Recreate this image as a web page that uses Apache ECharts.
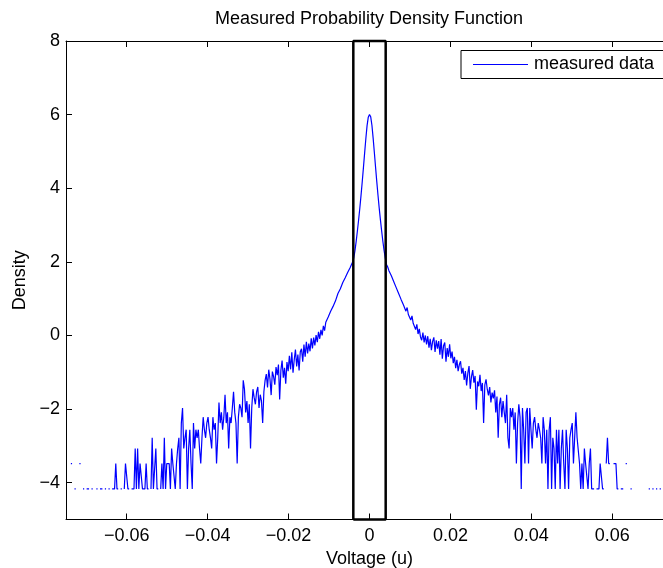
<!DOCTYPE html>
<html>
<head>
<meta charset="utf-8">
<title>Measured Probability Density Function</title>
<script src="https://cdn.jsdelivr.net/npm/echarts@6/dist/echarts.min.js"></script>
<style>
  html, body { margin: 0; padding: 0; background: #fff; }
  #chart { width: 663px; height: 568px; }
</style>
</head>
<body>
<div id="chart"></div>
<script>
// log density per voltage bin (bins of 0.0003 starting at -0.0738), null = empty bin
const binStart = -0.0738;
const binWidth = 0.0003;

const leftTail = [
  -3.48, -3.48, null, -4.17, -4.17, null, null, -3.48, -3.48, null,
  -4.17, -4.17, null, -4.17, -4.17, -4.17, null, -4.17, -4.17, null,
  null, -4.17, -4.17, null, -4.17, -4.17, -4.17, null, -4.17, -4.17,
  null, -4.17, -4.17, null, -4.17, -4.17, -4.17, -3.48, -4.17, -4.17,
  null, -4.17, -4.17, null, -4.17, -3.48, -3.48, -4.17, -4.17, null,
  -4.17, -4.17, -4.17, -3.07, -4.17, -3.07, -4.17, -3.48, -3.48, -4.17,
  -4.17, -4.17, -3.48, -4.17, -4.17, null, -4.17, -2.78, -4.17, -4.17,
  -3.07, -4.17, -4.17, null, -4.17, -3.48, -4.17, -2.78, -4.17, -3.48,
  -3.48, -3.48, -4.17, -3.07, -3.48, -3.48, -4.17, -3.48, -3.07, -2.78,
  -4.17, -2.38, -1.97, -3.07, -2.78, -2.56, -4.17, -3.07, -2.56, -3.48
];

const leftBody = [
  -4.17, -2.38, -3.07, -2.56, -2.78, -2.56, -3.07, -3.48, -2.78, -2.22,
  -2.56, -2.78, -2.38, -2.22, -2.56, -2.78, -3.07, -2.22, -2.56, -2.38,
  -3.48, -2.78, -1.82, -2.38, -2.09, -2.56, -2.22, -1.61, -2.38, -2.09,
  -3.07, -2.22, -2.38, -1.97, -1.53, -2.09, -2.38, -3.48, -2.22, -1.87,
  -1.97, -2.22, -1.22, -1.46, -2.09, -1.78, -2.38, -1.87, -3.07, -1.97,
  -1.46, -1.69, -1.87, -1.53, -1.40, -1.97, -1.61, -1.78, -2.38, -1.53,
  -1.22, -1.05, -1.41, -0.93, -1.18, -1.62, -0.98, -1.12, -1.34, -0.86,
  -1.08, -0.79, -1.74, -0.95, -0.68, -1.15, -0.88, -1.31, -0.72, -0.97,
  -0.55, -0.92, -0.46, -1.01, -0.66, -0.38, -0.84, -0.52, -0.95, -0.44,
  -0.36, -0.71, -0.25, -0.58, -0.17, -0.49, -0.22, -0.43, -0.08, -0.35,
  -0.06, -0.27, 0.01, -0.18, 0.10, -0.09, 0.15, 0.00, 0.26, 0.13,
  0.36, 0.31, 0.50, 0.52, 0.66, 0.62, 0.79, 0.80, 0.94, 0.99,
  1.14, 1.16, 1.27, 1.32, 1.44, 1.47, 1.57, 1.61, 1.71, 1.74, 1.84, 1.88, 1.99
];

const peak = [
  2.10, 2.30, 2.55, 2.83, 3.13, 3.45, 3.80, 4.17, 4.56, 4.96, 5.35, 5.70, 5.93,
  6.00,
  5.94, 5.71, 5.36, 4.97, 4.57, 4.18, 3.81, 3.46, 3.14, 2.84, 2.56, 2.31, 2.10
];

const rightBody = [
  1.93, 1.86, 1.76, 1.72, 1.62, 1.58, 1.46, 1.45, 1.30, 1.29, 1.14, 1.15, 0.98,
  0.97, 0.83, 0.85, 0.66, 0.76, 0.57, 0.58, 0.42, 0.53, 0.33,
  0.36, 0.16, 0.30, 0.04, 0.18, -0.04, -0.13, 0.08, -0.19, 0.00,
  -0.24, -0.02, -0.33, -0.09, -0.40, -0.16, -0.05, -0.45, -0.13, -0.36,
  -0.15, -0.52, -0.10, -0.63, -0.28, -0.19, -0.71, -0.34, -0.58, -0.24,
  -0.62, -0.44, -0.75, -0.58, -0.89, -0.66, -0.97, -0.79, -0.70, -1.04,
  -0.88, -1.21, -0.97, -1.36, -1.02, -0.83, -1.45, -1.12, -0.94, -1.28,
  -1.10, -2.02, -1.25, -1.38, -1.07, -1.51, -1.29, -2.38, -1.34, -1.19,
  -1.46, -1.63, -1.40, -1.82, -1.55, -1.71, -1.49, -2.09, -1.66, -2.78,
  -1.87, -1.69, -2.22, -1.78, -2.09, -2.38, -1.61, -2.78, -3.07, -1.97,
  -2.22, -1.97, -2.56, -2.09, -3.48, -2.38, -1.87,
  -2.22, -4.17, -1.97, -2.56, -3.48, -2.09, -1.97, -3.48, -1.97, -2.56,
  -3.07, -2.38, -2.22, -2.56, -2.78, -2.38, -2.56, -2.78, -3.48, -2.22,
  -2.56, -3.48, -2.56
];

const rightTail = [
  -4.17, -2.56, -2.22, -4.17, -2.78, -3.07, -4.17, -2.56, -3.48, -2.56,
  -4.17, -3.07, -2.56, -3.48, -4.17, -2.56, -3.07, -4.17, -2.78, -2.56,
  -2.38, -3.48, -2.78, -2.09, -2.78, -2.78, -3.48, -4.17, -3.48, -4.17,
  -3.07, -3.48, -3.48, -4.17, -3.48, -3.07, -4.17, -4.17, -4.17, null,
  -4.17, -4.17, -4.17, -3.48, -3.48, -4.17, -4.17, null, -3.48, -2.78,
  -3.48, -3.48, null, null, -3.48, -3.48, -3.48, -4.17, -4.17, null,
  -4.17, -4.17, -4.17, null, -3.48, -3.48, null, null, -4.17, -4.17,
  null, null, null, null, null, null, null, null, null, null,
  null, null, null, -4.17, -4.17, null, -4.17, -4.17, null, -4.17,
  -4.17, null, -4.17, -4.17, null, -4.17, -4.17, null, null, null
];

const xTicks = [-0.06, -0.04, -0.02, 0, 0.02, 0.04, 0.06];
const yTicks = [-4, -2, 0, 2, 4, 6, 8];

// the black window drawn round the centre of the distribution
const boxX = [-0.004, -0.004, 0.004, 0.004, -0.004];
const boxY = [-5, 8, 8, -5, -5];

const density = [].concat(leftTail, leftBody, peak, rightBody, rightTail);
const points = density.map((v, i) => [+(binStart + i * binWidth).toFixed(5), v === null ? '-' : v]);
const boxPoints = boxX.map((x, i) => [x, boxY[i]]);

const font = 'Liberation Sans, Arial, Helvetica, sans-serif';
const fmt = v => (v < 0 ? '\u2212' : '') + Math.abs(v);

const chart = echarts.init(document.getElementById('chart'));

const tickStyle = { inside: true, length: 6, lineStyle: { color: '#000', width: 1 } };
const lineStyle = { color: '#000', width: 1 };

chart.setOption({
  animation: false,
  textStyle: { fontFamily: font },
  title: {
    text: 'Measured Probability Density Function',
    left: 369,
    top: 10,
    textAlign: 'center',
    padding: 0,
    textStyle: { fontSize: 18, fontWeight: 'normal', color: '#000', fontFamily: font }
  },
  // legend frame runs past the right edge of the picture, as in the original
  graphic: [{
    type: 'rect',
    z: 10,
    shape: { x: 461, y: 50.5, width: 230, height: 28 },
    style: { fill: '#fff', stroke: '#000', lineWidth: 1 }
  }],
  legend: {
    data: ['measured data'],
    left: 461,
    top: 50,
    z: 20,
    padding: [5, 12, 5, 12],
    borderWidth: 0,
    icon: 'rect',
    itemWidth: 55,
    itemHeight: 1,
    selectedMode: false,
    textStyle: { fontSize: 18, color: '#000', fontFamily: font, lineHeight: 19, padding: [0, 0, 0, 1] }
  },
  grid: { left: 66, top: 41, width: 607, height: 478.5, containLabel: false, outerBoundsMode: 'none' },
  xAxis: [
    {
      type: 'value',
      min: -0.075,
      max: 0.075,
      name: 'Voltage (u)',
      nameLocation: 'middle',
      nameGap: 30,
      nameTextStyle: { fontSize: 18, color: '#000', fontFamily: font },
      axisLine: { onZero: false, lineStyle: lineStyle },
      axisTick: Object.assign({ customValues: xTicks }, tickStyle),
      axisLabel: { customValues: xTicks, formatter: fmt, fontSize: 18, color: '#000', margin: 8, fontFamily: font },
      splitLine: { show: false }
    },
    {
      type: 'value',
      position: 'top',
      min: -0.075,
      max: 0.075,
      axisLine: { onZero: false, lineStyle: lineStyle },
      axisTick: Object.assign({ customValues: xTicks }, tickStyle),
      axisLabel: { show: false },
      splitLine: { show: false }
    }
  ],
  yAxis: {
    type: 'value',
    min: -5,
    max: 8,
    name: 'Density',
    nameLocation: 'middle',
    nameGap: 33,
    nameTextStyle: { fontSize: 18, color: '#000', fontFamily: font },
    axisLine: { show: true, onZero: false, lineStyle: lineStyle },
    axisTick: Object.assign({ show: true, customValues: yTicks }, tickStyle),
    axisLabel: { customValues: yTicks, formatter: fmt, fontSize: 18, color: '#000', margin: 6, fontFamily: font },
    splitLine: { show: false }
  },
  series: [
    {
      name: 'measured data',
      type: 'line',
      data: points,
      symbol: 'none',
      showSymbol: false,
      connectNulls: false,
      lineStyle: { color: '#0000ff', width: 1.2 },
      itemStyle: { color: '#0000ff' },
      z: 2
    },
    {
      name: 'window',
      type: 'line',
      data: boxPoints,
      symbol: 'none',
      clip: false,
      silent: true,
      lineStyle: { color: '#000', width: 2.5 },
      itemStyle: { color: '#000' },
      z: 3
    }
  ]
});
</script>
</body>
</html>
